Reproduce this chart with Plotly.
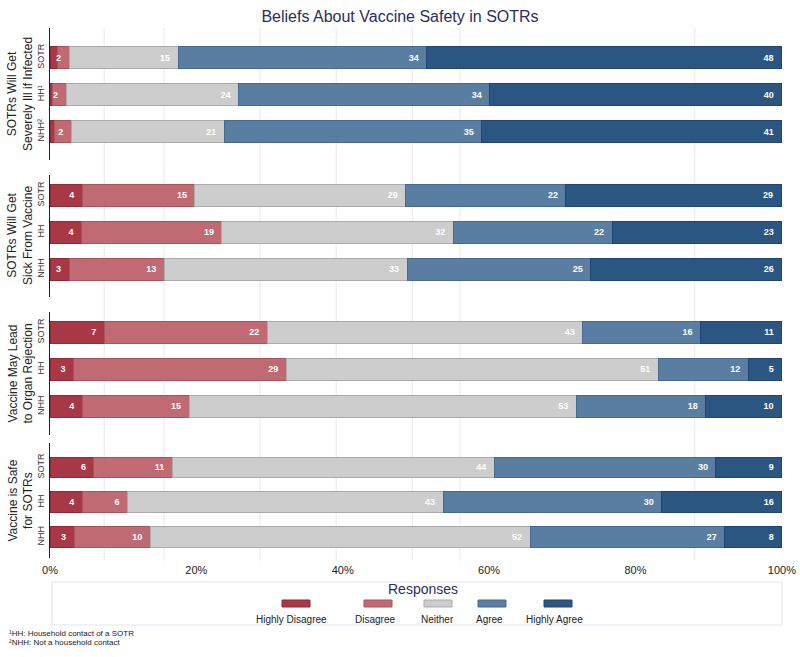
import plotly.graph_objects as go
from plotly.subplots import make_subplots

# ---------------- data ----------------
responses = ["Highly Disagree", "Disagree", "Neither", "Agree", "Highly Agree"]
panel_titles = [
    "SOTRs Will Get<br>Severely Ill if Infected",
    "SOTRs Will Get<br>Sick From Vaccine",
    "Vaccine May Lead<br>to Organ Rejection",
    "Vaccine is Safe<br>for SOTRs",
]
group_labels_first = ["SOTR", "HH¹", "NHH²"]
group_labels = ["SOTR", "HH", "NHH"]
x_tick_vals = [0, 20, 40, 60, 80, 100]
x_tick_text = ["0%", "20%", "40%", "60%", "80%", "100%"]

# rows: SOTR, HH, NHH ; columns: responses (percent)
severely_ill = [
    [1.0, 1.6, 14.9, 34.0, 48.45],
    [0.3, 1.9, 23.6, 34.3, 39.9],
    [0.6, 2.3, 20.9, 35.2, 41.0],
]
sick_from_vaccine = [
    [4.4, 15.4, 28.8, 21.9, 29.4],
    [4.3, 19.2, 31.6, 21.7, 23.2],
    [2.6, 13.0, 33.2, 25.1, 26.1],
]
organ_rejection = [
    [7.4, 22.3, 43.1, 16.1, 11.1],
    [3.2, 29.1, 50.8, 12.3, 4.6],
    [4.4, 14.6, 52.9, 17.7, 10.35],
]
vaccine_safe = [
    [6.0, 10.7, 44.0, 30.3, 9.0],
    [4.4, 6.2, 43.1, 29.9, 16.4],
    [3.3, 10.4, 51.9, 26.6, 7.8],
]
panels = [severely_ill, sick_from_vaccine, organ_rejection, vaccine_safe]

# ---------------- style ----------------
colors = ["#a83846", "#c06a74", "#cdcdcd", "#5a7ea1", "#2b5681"]
edge_colors = ["#8c2a37", "#a8545e", "#ababab", "#46698d", "#1f4670"]
FONT = "Liberation Sans"
W, H = 800, 657
L, R, T, B = 50, 18, 28, 99
plot_w = W - L - R
plot_h = H - T - B


def py(px):  # pixel y -> paper y
    return (H - B - px) / plot_h


def pxx(px):  # pixel x -> paper x
    return (px - L) / plot_w


panel_px = [(28, 160), (175, 297), (312, 435), (443, 558)]
panel_ranges = [[2.77, -0.8], [2.75, -0.55], [2.77, -0.55], [2.6, -0.7]]
grid_positions = [7.4, 15.6, 28.7, 39.1, 49.5, 56.0, 88.1]

fig = make_subplots(rows=4, cols=1, shared_xaxes=True, vertical_spacing=0.02)

for r, panel in enumerate(panels):
    for j, resp in enumerate(responses):
        vals = [panel[g][j] for g in range(3)]
        texts = [f"<b>{round(v)}</b>\u00a0\u00a0" if round(v) >= 2 else "" for v in vals]
        fig.add_trace(
            go.Bar(
                x=vals,
                y=[0, 1, 2],
                orientation="h",
                name=resp,
                showlegend=False,
                marker=dict(color=colors[j], line=dict(color=edge_colors[j], width=1)),
                text=texts,
                textposition="inside",
                insidetextanchor="end",
                textangle=0,
                constraintext="none",
                cliponaxis=False,
                textfont=dict(color="white", size=9, family=FONT),
                hoverinfo="x+name",
            ),
            row=r + 1,
            col=1,
        )

fig.update_layout(
    barmode="stack",
    bargap=0.41,
    width=W,
    height=H,
    margin=dict(l=L, r=R, t=T, b=B, autoexpand=False),
    plot_bgcolor="white",
    paper_bgcolor="white",
    font=dict(family=FONT, color="#333333"),
    uniformtext=dict(minsize=9, mode="show"),
    title=dict(
        text="Beliefs About Vaccine Safety in SOTRs",
        x=0.5,
        xref="container",
        y=1 - 16 / H,
        yref="container",
        yanchor="middle",
        font=dict(size=16, color="#2b2d5c", family=FONT),
    ),
)

for r in range(4):
    top, bot = panel_px[r]
    yname = "yaxis" if r == 0 else f"yaxis{r + 1}"
    xname = "xaxis" if r == 0 else f"xaxis{r + 1}"
    fig.layout[yname].update(
        domain=[py(bot), py(top)],
        range=panel_ranges[r],
        automargin=False,
        tickvals=[0, 1, 2],
        ticktext=group_labels_first if r == 0 else group_labels,
        tickangle=-90,
        tickfont=dict(size=9, color="#333333"),
        ticklabelstandoff=1,
        showline=True,
        linecolor="#222222",
        linewidth=1,
        showgrid=False,
        zeroline=False,
        ticks="",
    )
    fig.layout[xname].update(
        range=[0, 100.02],
        automargin=False,
        showgrid=False,
        zeroline=False,
        showline=False,
        tickvals=x_tick_vals,
        ticktext=x_tick_text,
        showticklabels=(r == 3),
        ticklabelstandoff=4,
        tickfont=dict(size=11, color="#222222"),
        ticks="",
    )
    # panel title (rotated, left of the row labels)
    fig.add_annotation(
        text=panel_titles[r], xref="paper", yref="paper",
        x=pxx(20), y=py((top + bot) / 2), textangle=-90,
        showarrow=False, xanchor="center", yanchor="middle",
        font=dict(size=12, color="#222222", family=FONT),
    )

# faint vertical reference lines
for gx in grid_positions:
    fig.add_shape(
        type="line", xref="x4", yref="paper", x0=gx, x1=gx, y0=-0.005, y1=1.0,
        line=dict(color="#e8e8e8", width=1), layer="below",
    )

# legend box
fig.add_shape(
    type="rect", xref="paper", yref="paper",
    x0=pxx(52), x1=pxx(782), y0=py(625), y1=py(582),
    line=dict(color="#dfe7ee", width=1), fillcolor="rgba(0,0,0,0)",
)
fig.add_annotation(
    text="Responses", xref="paper", yref="paper", x=pxx(423), y=py(589),
    showarrow=False, xanchor="center", yanchor="middle",
    font=dict(size=14, color="#2b2d5c", family=FONT),
)
swatch_cx = [296, 378, 438, 492, 558]
label_cx = [291, 375, 437, 489, 554]
for j, resp in enumerate(responses):
    fig.add_shape(
        type="rect", xref="paper", yref="paper",
        x0=pxx(swatch_cx[j] - 14), x1=pxx(swatch_cx[j] + 14),
        y0=py(607), y1=py(600),
        fillcolor=colors[j], line=dict(color=edge_colors[j], width=1),
    )
    fig.add_annotation(
        text=resp, xref="paper", yref="paper", x=pxx(label_cx[j]), y=py(619),
        showarrow=False, xanchor="center", yanchor="middle",
        font=dict(size=10, color="#222222", family=FONT),
    )

# footnotes
fig.add_annotation(
    text="¹HH: Household contact of a SOTR", xref="paper", yref="paper",
    x=pxx(7), y=py(633), showarrow=False, xanchor="left", yanchor="middle",
    font=dict(size=8, color="#222222", family=FONT),
)
fig.add_annotation(
    text="²NHH: Not a household contact", xref="paper", yref="paper",
    x=pxx(7), y=py(642), showarrow=False, xanchor="left", yanchor="middle",
    font=dict(size=8, color="#222222", family=FONT),
)

fig.write_html(
    "out.html",
    config={"displayModeBar": False},
    post_script="document.body.style.margin='0';document.body.style.overflow='hidden';",
)
